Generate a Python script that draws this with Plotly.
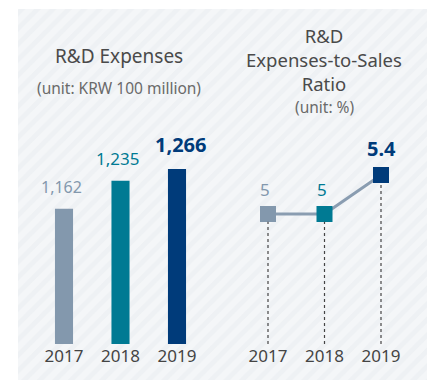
import plotly.graph_objects as go

# Data
years = ["2017", "2018", "2019"]
rd_expenses = [1162, 1235, 1266]            # KRW 100 million
rd_ratio = [5.0, 5.0, 5.4]                  # %
expense_labels = ["1,162", "1,235", "1,266"]
ratio_labels = ["5", "5", "5.4"]
year_colors = ["#8398ad", "#007a93", "#003b7a"]

W, H = 434, 380
FONT = "Noto Sans"


def px_x(v):
    return v / W


def px_y(v):
    return 1 - v / H


fig = go.Figure()

# Striped card behind both charts (pixel-space axis)
fig.add_trace(go.Scatter(
    x=[18, 427, 427, 18, 18], y=[9, 9, 380, 380, 9],
    mode="lines", line=dict(width=0), fill="toself",
    fillcolor="#f3f5f8",
    fillpattern=dict(shape="/", size=11, solidity=0.45,
                     bgcolor="#f4f6f8", fgcolor="#e8ecf0"),
    hoverinfo="skip", xaxis="x", yaxis="y",
))

# R&D expenses bars
fig.add_trace(go.Bar(
    x=years, y=rd_expenses, marker=dict(color=year_colors, line=dict(width=0)),
    width=0.32, xaxis="x2", yaxis="y2", hoverinfo="skip",
))

# Invisible carrier so the ratio year axis knows its categories
fig.add_trace(go.Scatter(
    x=years, y=rd_ratio, mode="markers", marker=dict(size=1, opacity=0),
    xaxis="x3", yaxis="y3", hoverinfo="skip",
))

# Expenses-to-sales ratio line with square markers
fig.add_trace(go.Scatter(
    x=years, y=rd_ratio, mode="lines+markers",
    line=dict(color="#8a9db1", width=3),
    marker=dict(symbol="square", size=16, color=year_colors, line=dict(width=0)),
    xaxis="x4", yaxis="y3", hoverinfo="skip",
))

y2_min, y2_max = 810, 1706
y3_min, y3_max = 3.667, 7.195
bottom = px_y(344)

# Dotted drop lines under each ratio point (category index positions)
shapes = []
for i, v in enumerate(rd_ratio):
    shapes.append(dict(type="line", xref="x3", yref="y3", x0=i, x1=i,
                       y0=y3_min, y1=v - 0.08, layer="above",
                       line=dict(color="#444444", width=1.2, dash="dot")))

annotations = []
# Bar value labels
exp_sizes = [16, 17, 20]
exp_weights = ["normal", "normal", "bold"]
exp_shift = [-3, -3, 3]
for i, (v, lab, c, s, w, dx) in enumerate(zip(rd_expenses, expense_labels, year_colors,
                                              exp_sizes, exp_weights, exp_shift)):
    annotations.append(dict(xref="x2", yref="y2", x=i, y=v, text=lab, showarrow=False,
                            xanchor="center", yanchor="bottom", yshift=9, xshift=dx,
                            font=dict(family=FONT, size=s, color=c, weight=w)))
# Ratio value labels
ratio_sizes = [17, 17, 20]
ratio_shift = [-3, -3, 0]
for i, (v, lab, c, s, w, dx) in enumerate(zip(rd_ratio, ratio_labels, year_colors,
                                              ratio_sizes, exp_weights, ratio_shift)):
    annotations.append(dict(xref="x4", yref="y3", x=i, y=v, text=lab, showarrow=False,
                            xanchor="center", yanchor="bottom", yshift=11, xshift=dx,
                            font=dict(family=FONT, size=s, color=c, weight=w)))

# Titles
title_color = "#4a4a4a"
unit_color = "#6a6a6a"
annotations += [
    dict(xref="paper", yref="paper", x=px_x(119), y=px_y(56), text="R&D Expenses",
         xanchor="center", yanchor="middle",
         showarrow=False, font=dict(family=FONT, size=19, color=title_color)),
    dict(xref="paper", yref="paper", x=px_x(119), y=px_y(88), text="(unit: KRW 100 million)",
         xanchor="center", yanchor="middle",
         showarrow=False, font=dict(family=FONT, size=15.5, color=unit_color)),
    dict(xref="paper", yref="paper", x=px_x(324), y=px_y(59),
         text="R&D<br>Expenses-to-Sales<br>Ratio",
         xanchor="center", yanchor="middle",
         showarrow=False, font=dict(family=FONT, size=18.5, color=title_color)),
    dict(xref="paper", yref="paper", x=px_x(324), y=px_y(107), text="(unit: %)",
         xanchor="center", yanchor="middle",
         showarrow=False, font=dict(family=FONT, size=15.5, color=unit_color)),
]

hidden = dict(showgrid=False, zeroline=False, showline=False, showticklabels=False, ticks="")
tick_font = dict(family=FONT, size=17, color="#444444")
cat = dict(type="category", categoryorder="array", categoryarray=years, range=[-0.5, 2.5])

fig.update_layout(
    width=W, height=H, margin=dict(l=0, r=0, t=0, b=0),
    paper_bgcolor="white", plot_bgcolor="rgba(0,0,0,0)",
    showlegend=False,
    xaxis=dict(domain=[0, 1], range=[0, W], **hidden),
    yaxis=dict(domain=[0, 1], range=[H, 0], **hidden),
    xaxis2=dict(domain=[px_x(35.75), px_x(205.25)], anchor="y2", **cat,
                showgrid=False, zeroline=False, showline=False,
                ticks="", tickfont=tick_font),
    yaxis2=dict(domain=[bottom, 1], anchor="x2", range=[y2_min, y2_max], **hidden),
    xaxis3=dict(domain=[px_x(239.75), px_x(409.25)], anchor="y3", **cat,
                showgrid=False, zeroline=False, showline=False,
                ticks="", tickfont=tick_font),
    yaxis3=dict(domain=[bottom, 1], anchor="x3", range=[y3_min, y3_max], **hidden),
    xaxis4=dict(domain=[px_x(245.75), px_x(415.25)], anchor="y3", overlaying="x3",
                **cat, **hidden),
    shapes=shapes,
    annotations=annotations,
)

fig.write_html("out.html")
